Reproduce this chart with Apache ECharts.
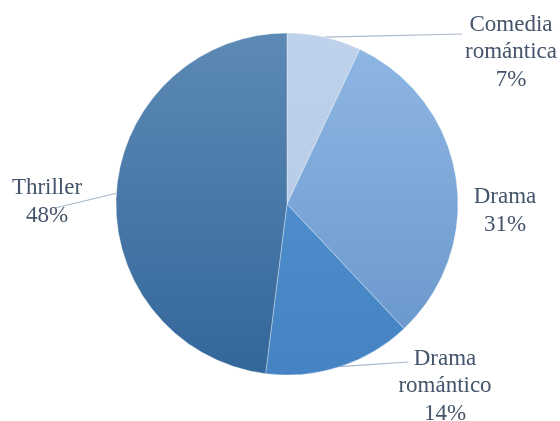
<!DOCTYPE html>
<html>
<head>
<meta charset="utf-8">
<script src="https://cdn.jsdelivr.net/npm/echarts@6/dist/echarts.min.js"></script>
<style>
  html, body { margin: 0; padding: 0; background: #fff; }
  #chart { width: 560px; height: 421px; }
</style>
</head>
<body>
<div id="chart"></div>
<script>
// Género de películas preferido
const categories = ['Comedia romántica', 'Drama', 'Drama romántico', 'Thriller'];
const shares = [7, 31, 14, 48];

// Slice fills: top / bottom colour of each vertical gradient
const fillTop = ['#BFD2EB', '#8EB6E3', '#4D8DCB', '#5D8AB5'];
const fillBottom = ['#B9CDE8', '#6C99CD', '#4583C2', '#33669A'];

// Where each label block sits, and where its leader line ends
const labelCenter = [[511, 52], [505, 211], [445, 386], [47, 202]];
const lineEnd = [[462, 34], null, [408, 362], [55, 208]];

const chart = echarts.init(document.getElementById('chart'), null, { renderer: 'canvas' });

const data = categories.map((name, i) => ({
  name: name,
  value: shares[i],
  itemStyle: {
    color: {
      type: 'linear', x: 0, y: 0, x2: 0, y2: 1,
      colorStops: [
        { offset: 0, color: fillTop[i] },
        { offset: 1, color: fillBottom[i] }
      ]
    }
  },
  labelLine: { show: lineEnd[i] !== null }
}));

chart.setOption({
  animation: false,
  series: [{
    type: 'pie',
    center: [287, 204],
    radius: 171,
    startAngle: 90,
    clockwise: true,
    data: data,
    itemStyle: {
      borderColor: 'rgba(255,255,255,0.55)',
      borderWidth: 0.6
    },
    label: {
      show: true,
      position: 'outside',
      fontFamily: '"Liberation Serif", "Times New Roman", serif',
      fontSize: 23,
      lineHeight: 27.5,
      color: '#44546A',
      align: 'center',
      formatter: p => p.name.replace(' ', '\n') + '\n' + Math.round(p.percent) + '%'
    },
    labelLine: {
      show: true,
      length: 10,
      length2: 10,
      smooth: false,
      lineStyle: { color: '#A9B8CB', width: 1.2 }
    },
    labelLayout: function (params) {
      const i = params.dataIndex;
      const out = {
        x: labelCenter[i][0],
        y: labelCenter[i][1],
        align: 'center',
        verticalAlign: 'middle'
      };
      if (lineEnd[i] && params.labelLinePoints) {
        out.labelLinePoints = [params.labelLinePoints[0], lineEnd[i]];
      }
      return out;
    }
  }]
});
</script>
</body>
</html>
